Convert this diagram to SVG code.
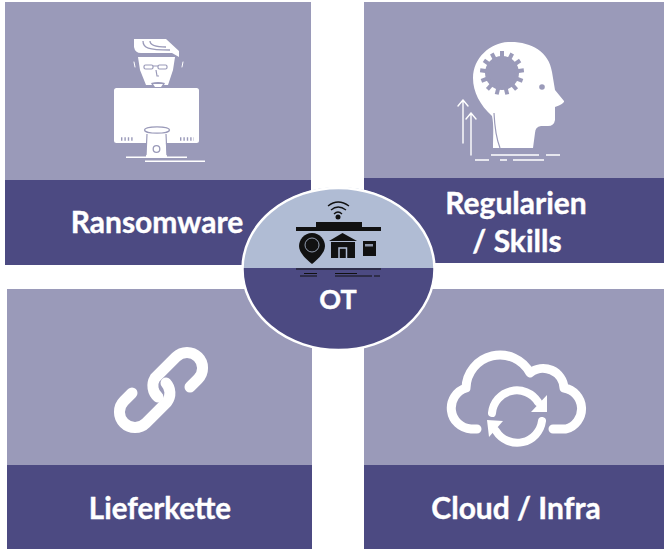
<svg xmlns="http://www.w3.org/2000/svg" width="664" height="549" viewBox="0 0 664 549">
<style>
.l{fill:#9a9ab9}.d{fill:#4c4a82}
.t{font-family:Lato,"Open Sans",sans-serif;font-weight:700;font-size:30px;fill:#fff;stroke:#fff;stroke-width:.4;text-anchor:middle}
.w{fill:#fff}.s{fill:none;stroke:#fff;stroke-linecap:round;stroke-linejoin:round}
.p{fill:none;stroke:#9a9ab9}
.b{fill:#111}.k{fill:none;stroke:#111}
</style>
<rect width="664" height="549" fill="#fff"/>
<g id="ransomware">
<rect class="l" x="5" y="2" width="306" height="178"/><rect class="d" x="5" y="180" width="306" height="85"/>
<text class="t" x="157" y="233">Ransomware</text>
<path class="w" d="M134 39H166L179 51V57L172 53H141Q135 53 134 47Z"/>
<path class="p" stroke-width="1.300" d="M143 41C143 48 148 50 170 50M150 41C150 45 154 47 166 47"/>
<path class="w" d="M138 57H175L173 70L168 85H146L140 70Z"/>
<path class="s" stroke-width="1" d="M134 62L135 67M183 62L182 67"/>
<g class="p" stroke-width="1.200"><rect x="144" y="65" width="9" height="4" rx="1.500"/><rect x="158" y="65" width="9" height="4" rx="1.500"/><path d="M153 66H158M156 70L157 76H159"/></g>
<path fill="#9a9ab9" d="M151 83Q158 81 165 83L163 87H153Z"/><path class="w" d="M153 84H163L161 87H155Z"/>
<rect class="w" x="114" y="88" width="85" height="55" rx="2.500"/>
<path class="p" stroke-width="3.500" stroke-dasharray="1.400 2" d="M121 139H134M180 139H194"/>
<path class="w" d="M147 132H165L167 157H146Z"/>
<path class="p" stroke-width="1.200" d="M147 134L146 155M166 134L167 155"/>
<ellipse cx="157" cy="130" rx="12.500" ry="3.200" class="w" stroke="#9a9ab9" stroke-width="1.300"/>
<circle cx="156.500" cy="149" r="3.300" class="w" stroke="#9a9ab9" stroke-width="1.300"/>
<path class="w" d="M126 156.500H187V158H126ZM145 160.500H205V162H145Z"/>
</g>
<g id="regularien">
<rect class="l" x="364" y="2" width="300" height="176"/><rect class="d" x="364" y="178" width="300" height="85"/>
<text class="t" x="516" y="214">Regularien</text><text class="t" x="517" y="252">/ Skills</text>
<path class="w" d="M508 42C530 41 549 51 552 72L555 90L564 101Q565 103 555 107V120Q554 126 548 126H541Q535 127 535 133L533 148H493C493 135 494 125 492 116C480 105 473 92 473 78C473 58 490 43 508 42Z"/>
<g fill="#9a9ab9"><circle cx="502" cy="73" r="17"/><circle cx="542" cy="87" r="2.800"/>
<g><rect x="500" y="51" width="4" height="9"/><rect x="500" y="51" width="4" height="9" transform="rotate(27.700 502 73)"/><rect x="500" y="51" width="4" height="9" transform="rotate(55.400 502 73)"/><rect x="500" y="51" width="4" height="9" transform="rotate(83.100 502 73)"/><rect x="500" y="51" width="4" height="9" transform="rotate(110.800 502 73)"/><rect x="500" y="51" width="4" height="9" transform="rotate(138.500 502 73)"/><rect x="500" y="51" width="4" height="9" transform="rotate(166.200 502 73)"/><rect x="500" y="51" width="4" height="9" transform="rotate(193.900 502 73)"/><rect x="500" y="51" width="4" height="9" transform="rotate(221.600 502 73)"/><rect x="500" y="51" width="4" height="9" transform="rotate(249.300 502 73)"/><rect x="500" y="51" width="4" height="9" transform="rotate(277 502 73)"/><rect x="500" y="51" width="4" height="9" transform="rotate(304.700 502 73)"/><rect x="500" y="51" width="4" height="9" transform="rotate(332.400 502 73)"/></g></g>
<path class="p" stroke-width="1.200" d="M494 113Q495 135 500 148"/>
<path class="s" stroke-width="1.400" d="M463 143V100M458 106L463 100L468 106M471 155V113M466 119L471 113L476 119"/>
<path fill="none" stroke="#fff" stroke-width="1.500" d="M491 155H539M546 155H560M475 160H489M500 160H507M513 160H544"/>
</g>
<g id="lieferkette">
<rect class="l" x="7" y="289" width="305" height="176"/><rect class="d" x="7" y="465" width="305" height="84"/>
<text class="t" x="160" y="519" style="font-size:29.500px">Lieferkette</text>
<path class="s" stroke-width="11" d="M190 387L198 379A15.500 15.500 0 0 0 176 357L155 378A15 15 0 0 0 158 397"/>
<path class="s" stroke-width="11" d="M132 393L124 401A15.500 15.500 0 0 0 146 423L167 402A15 15 0 0 0 166 383"/>
</g>
<g id="cloud">
<rect class="l" x="364" y="289" width="300" height="176"/><rect class="d" x="364" y="465" width="300" height="84"/>
<text class="t" x="516" y="519">Cloud / Infra</text>
<path class="s" stroke-width="9" stroke-linecap="butt" d="M477 429H471A21 21 0 0 1 466 388A34 34 0 0 1 530 373A21 21 0 0 1 564 388A21 21 0 0 1 566 429H553"/>
<path class="s" stroke-width="8" stroke-linecap="butt" d="M492 413A25 25 0 0 1 538 402M542 421A25 25 0 0 1 496 431"/>
<path class="w" d="M547 395V412H531ZM487 420L503 421L489 437Z"/>
</g>
<g id="ot">
<ellipse cx="338.500" cy="269" rx="96" ry="81" fill="#4c4a82"/>
<path fill="#b0bcd4" d="M242.500 268A96 81 0 0 1 434.500 268Z"/>
<ellipse cx="338.500" cy="269" rx="96" ry="81" fill="none" stroke="#fff" stroke-width="2.500"/>
<text class="t" x="338" y="309" style="font-size:27px">OT</text>
<path class="k" stroke-width="1.300" d="M328 206Q338 198 349 206M331 210Q338 204 346 210M334 214Q338 210 342 214"/>
<circle class="b" cx="338" cy="217" r="2.500"/>
<path class="b" d="M296 227H316V222H362V227H381V231H296Z"/>
<path class="b" d="M312 233C304 233 299 240 299 246C299 253 307 260 312 264C317 260 325 253 325 246C325 240 320 233 312 233Z"/>
<circle cx="312" cy="245" r="7" fill="none" stroke="#b0bcd4" stroke-width=".8"/>
<path class="b" d="M342.500 233L357 241H329Z"/>
<path class="b" d="M331 242H355V258H331Z"/>
<path fill="none" stroke="#b0bcd4" stroke-width="1.500" d="M339 258V248H346.500V258"/>
<rect class="b" x="363" y="241" width="13" height="15"/>
<rect x="365" y="244" width="8" height="2.500" fill="#8d95a8"/>
<path class="k" stroke-width="1" d="M296 269H381M304 273.500H317M335 273.500H357M300 276H317M335 276H372M374 276H380"/>
</g>
</svg>
